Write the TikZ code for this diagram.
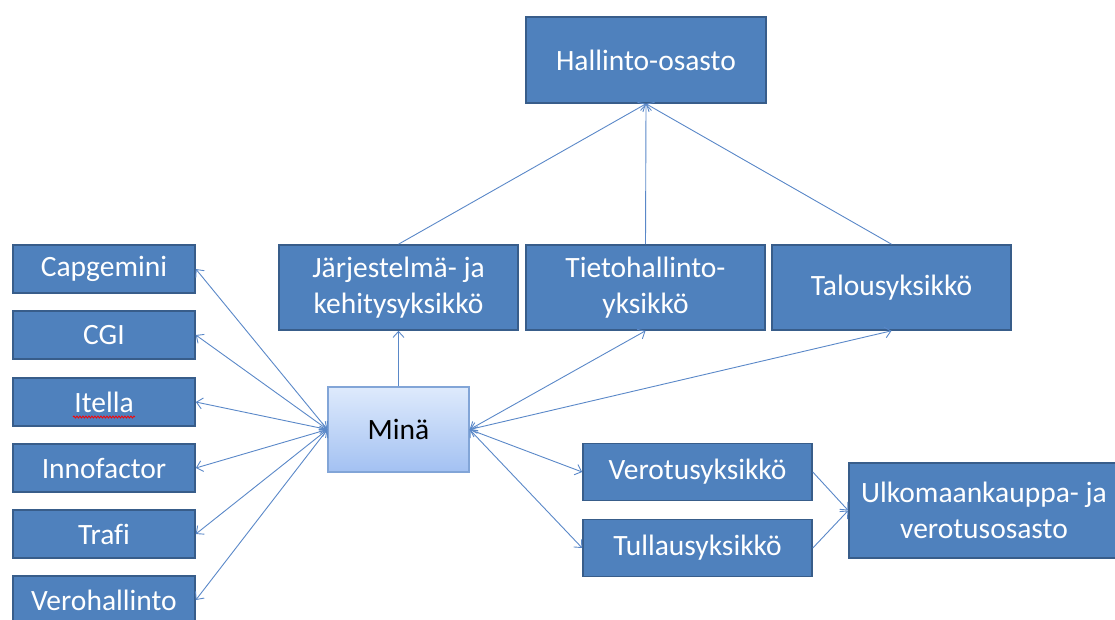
\documentclass[tikz,border=0pt]{standalone}
\usepackage{fontspec}
\setmainfont{Carlito}[Ligatures={NoCommon}]
\usetikzlibrary{arrows.meta,decorations.pathmorphing}
\definecolor{boxblue}{RGB}{79,129,189}
\definecolor{boxborder}{RGB}{56,93,138}
\definecolor{linkblue}{RGB}{90,136,200}
\definecolor{minatop}{RGB}{222,234,252}
\definecolor{minabot}{RGB}{163,193,242}
\definecolor{minaborder}{RGB}{130,165,215}
\tikzset{
  ubox/.style={rectangle, fill=boxblue, draw=boxborder, line width=1.6pt, text=white,
    font=\fontsize{29.5}{36}\selectfont, align=center, inner sep=0pt},
  minabox/.style={rectangle, top color=minatop, bottom color=minabot, draw=minaborder,
    line width=1.2pt, text=black, font=\fontsize{29.5}{36}\selectfont, inner sep=0pt,
    minimum width=141pt, minimum height=85pt},
  link/.style={draw=linkblue, line width=0.9pt},
  tip/.tip={Straight Barb[length=6pt,width=11pt,line width=0.9pt]},
  both/.style={link, tip-tip},
  one/.style={link, -tip},
}
\begin{document}
\begin{tikzpicture}[x=1pt,y=-1pt]
\useasboundingbox (0,0) rectangle (1115,619);
% top
\node[ubox, minimum width=240pt, minimum height=86pt] (hall) at (646,60) {Hallinto-osasto};
\node[ubox, minimum width=239pt, minimum height=85pt] (jar) at (398.5,287.5) {Järjestelmä- ja\\kehitysyksikkö};
\node[ubox, minimum width=239pt, minimum height=85pt] (tie) at (645.5,287.5) {Tietohallinto-\\yksikkö};
\node[ubox, minimum width=239pt, minimum height=85pt] (tal) at (891.5,287.5) {Talousyksikkö};
% left column
\node[ubox, minimum width=182pt, minimum height=48pt] (cap) at (104,269) {Capgemini};
\node[ubox, minimum width=182pt, minimum height=48pt] (cgi) at (104,335) {CGI};
\node[ubox, minimum width=182pt, minimum height=48pt] (ite) at (104,402) {Itella};
\node[ubox, minimum width=182pt, minimum height=48pt] (inn) at (104,468) {Innofactor};
\node[ubox, minimum width=182pt, minimum height=48pt] (tra) at (104,534) {Trafi};
\node[ubox, minimum width=182pt, minimum height=48pt] (ver) at (104,600) {Verohallinto};
% centre
\node[minabox] (mina) at (398.5,429.5) {Minä};
% lower right
\node[ubox, minimum width=229pt, minimum height=57pt] (vero) at (697.5,472) {Verotusyksikkö};
\node[ubox, minimum width=229pt, minimum height=57pt] (tull) at (697.5,548) {Tullausyksikkö};
\node[ubox, minimum width=270pt, minimum height=95pt] (ulko) at (984,510.5) {Ulkomaankauppa- ja\\verotusosasto};
% spell-check underline under Itella
\draw[red, line width=0.8pt, decorate, decoration={snake, amplitude=1pt, segment length=3pt}]
  (73,417) -- (135,417);
% connectors to Hallinto-osasto
\draw[one] (jar.north) -- (hall.south);
\draw[one] (tie.north) -- (hall.south);
\draw[one] (tal.north) -- (hall.south);
% Minä connections
\draw[one] (mina.north) -- (jar.south);
\draw[both] (mina.east) -- (tie.south);
\draw[both] (mina.east) -- (tal.south);
\draw[both] (mina.east) -- (vero.west);
\draw[both] (mina.east) -- (tull.west);
\foreach \n in {cap,cgi,ite,inn,tra,ver}{
  \draw[both] (mina.west) -- (\n.east);
}
\draw[one] (vero.east) -- (ulko.west);
\draw[one] (tull.east) -- (ulko.west);
\end{tikzpicture}
\end{document}
